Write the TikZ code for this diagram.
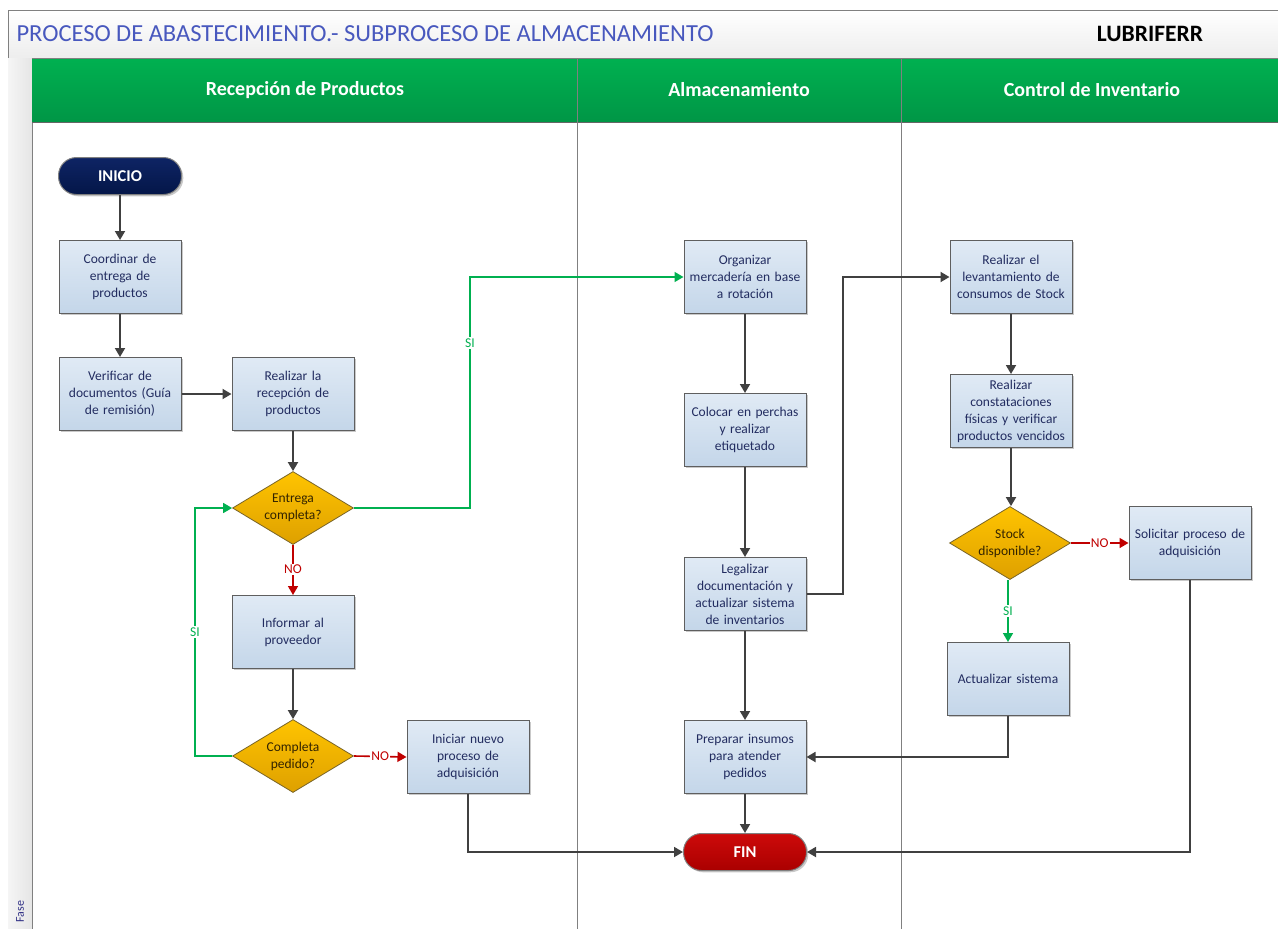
\documentclass[tikz,border=0pt]{standalone}
\usepackage{fontspec}
\setmainfont{Carlito}
\usetikzlibrary{arrows.meta,shapes.geometric,shadows,calc}
\definecolor{boxtop}{RGB}{224,234,245}
\definecolor{boxbot}{RGB}{196,214,233}
\definecolor{boxborder}{RGB}{95,95,95}
\definecolor{boxtext}{RGB}{34,44,96}
\definecolor{dtop}{RGB}{255,196,0}
\definecolor{dbot}{RGB}{222,160,0}
\definecolor{dborder}{RGB}{120,100,40}
\definecolor{dtext}{RGB}{50,35,0}
\definecolor{navytop}{RGB}{14,36,100}
\definecolor{navybot}{RGB}{4,22,72}
\definecolor{redtop}{RGB}{205,10,10}
\definecolor{redbot}{RGB}{170,0,0}
\definecolor{arrgray}{RGB}{64,64,64}
\definecolor{sigreen}{RGB}{0,176,80}
\definecolor{nored}{RGB}{192,0,0}
\definecolor{hdrtop}{RGB}{0,176,80}
\definecolor{hdrbot}{RGB}{0,150,70}
\definecolor{titleblue}{RGB}{72,88,190}
\definecolor{framegray}{RGB}{128,128,128}
\tikzset{
  proc/.style={rectangle, draw=boxborder, line width=1pt, top color=boxtop, bottom color=boxbot,
    minimum width=122pt, minimum height=73pt, align=center, text width=114pt,
    font=\fontsize{13.5}{17}\selectfont, text=boxtext,
    drop shadow={shadow xshift=1.8pt, shadow yshift=-1.8pt, opacity=.35, fill=black!60}},
  decision/.style={diamond, draw=dborder, line width=0.8pt, top color=dtop, bottom color=dbot,
    minimum width=121pt, minimum height=73pt, inner sep=0pt, aspect=1.66, align=center,
    font=\fontsize{13.5}{17}\selectfont, text=dtext},
  terminal/.style={rectangle, rounded corners=18pt, draw=framegray, line width=1pt,
    minimum width=123pt, minimum height=37pt, font=\bfseries\fontsize{16.5}{18}\selectfont, text=white,
    drop shadow={shadow xshift=1.8pt, shadow yshift=-1.8pt, opacity=.35, fill=black!60}},
  arr/.style={draw=arrgray, line width=1.8pt, -{Triangle[length=9pt,width=10pt]}},
  garr/.style={draw=sigreen, line width=1.6pt, -{Triangle[length=9pt,width=10pt]}},
  rarr/.style={draw=nored, line width=1.6pt, -{Triangle[length=9pt,width=10pt]}},
  lbl/.style={fill=white, inner sep=1.2pt, font=\fontsize{13.5}{15}\selectfont},
  lane/.style={draw=framegray, line width=1pt},
  hdrtext/.style={text=white, font=\bfseries\fontsize{20}{22}\selectfont}
}
\begin{document}
\begin{tikzpicture}[x=1pt, y=-1pt]
\useasboundingbox (0,0) rectangle (1278,929);
\fill[white] (0,0) rectangle (1278,929);
% title bar
\fill[top color=white, bottom color=black!7] (8,10) rectangle (1278,58);
\draw[lane] (1280,10) -- (8,10) -- (8,931);
\draw[lane] (8,58) -- (1280,58);
\node[anchor=west, text=titleblue, font=\fontsize{24.5}{26}\selectfont] (title) at (13,34) {PROCESO DE ABASTECIMIENTO.- SUBPROCESO DE ALMACENAMIENTO};
\node[text=black, font=\bfseries\fontsize{23.5}{25}\selectfont] (company) at (1150,34) {LUBRIFERR};
% left strip
\fill[left color=black!4, right color=black!10] (8,58) rectangle (32,931);
\draw[lane] (32,58) -- (32,931);
\node[rotate=90, anchor=west, text=black!45!blue!60!gray, font=\fontsize{12}{13}\selectfont] (fase) at (20,926) {Fase};
% header
\fill[top color=hdrtop, bottom color=hdrbot] (32,59) rectangle (1280,122);
\draw[draw=black!60, line width=1pt] (32,122) -- (1280,122);
\draw[draw=black!50, line width=1pt] (577,59) -- (577,122);
\draw[draw=black!50, line width=1pt] (901,59) -- (901,122);
\draw[lane] (577,122) -- (577,931);
\draw[lane] (901,122) -- (901,931);
\node[hdrtext] (h1) at (305,90) {Recepción de Productos};
\node[hdrtext] (h2) at (739,90) {Almacenamiento};
\node[hdrtext] (h3) at (1092,90) {Control de Inventario};
% nodes
\node[terminal, top color=navytop, bottom color=navybot] (ini) at (120,176) {INICIO};
\node[proc] (coord) at (120,277) {Coordinar de\\entrega de\\productos};
\node[proc] (verif) at (120,394) {Verificar de\\documentos (Guía\\de remisión)};
\node[proc] (recep) at (293,394) {Realizar la\\recepción de\\productos};
\node[decision] (entrega) at (293,508) {Entrega\\completa?};
\node[proc] (inform) at (293,632) {Informar al\\proveedor};
\node[decision] (completa) at (293,756) {Completa\\pedido?};
\node[proc] (inic) at (468,757) {Iniciar nuevo\\proceso de\\adquisición};
\node[proc] (org) at (745,277) {Organizar\\mercadería en base\\a rotación};
\node[proc] (colocar) at (745,430) {Colocar en perchas\\y realizar\\etiquetado};
\node[proc] (leg) at (745,594) {Legalizar\\documentación y\\actualizar sistema\\de inventarios};
\node[proc] (prep) at (745,757) {Preparar insumos\\para atender\\pedidos};
\node[terminal, top color=redtop, bottom color=redbot] (fin) at (745,852) {FIN};
\node[proc] (lev) at (1011,277) {Realizar el\\levantamiento de\\consumos de Stock};
\node[proc] (const) at (1011,411) {Realizar\\constataciones\\físicas y verificar\\productos vencidos};
\node[decision] (stock) at (1010,543) {Stock\\disponible?};
\node[proc] (solic) at (1190,543) {Solicitar proceso de\\adquisición};
\node[proc] (actual) at (1008,679) {Actualizar sistema};
% corner x positions
\coordinate (k1) at (470,0);
\coordinate (k2) at (195,0);
\coordinate (k3) at (843,0);
% connectors
\draw[arr] (ini) -- (coord);
\draw[arr] (coord) -- (verif);
\draw[arr] (verif) -- (recep);
\draw[arr] (recep) -- (entrega);
\draw[garr] (entrega.east) -- (entrega.east -| k1) -- node[lbl, text=sigreen, pos=0.714] {SI} (k1 |- org.west) -- (org.west);
\draw[rarr] (entrega.south) -- node[lbl, text=nored, pos=0.49] {NO} (inform.north);
\draw[arr] (inform) -- (completa);
\draw[garr] (completa.west) -- (completa.west -| k2) -- node[lbl, text=sigreen, pos=0.5] {SI} (k2 |- entrega.west) -- (entrega.west);
\draw[rarr] (completa.east) -- node[lbl, text=nored, pos=0.5] {NO} (inic.west);
\draw[arr] (inic.south) |- (fin.west);
\draw[arr] (org) -- (colocar);
\draw[arr] (colocar) -- (leg);
\draw[arr] (leg) -- (prep);
\draw[arr] (prep) -- (fin);
\draw[arr] (leg.east) -- (leg.east -| k3) -- (k3 |- lev.west) -- (lev.west);
\draw[arr] (lev) -- (const);
\draw[arr] (const.south) -- (const.south |- stock.north);
\draw[rarr] (stock.east) -- node[lbl, text=nored, pos=0.5] {NO} (solic.west);
\draw[garr] (stock.south -| actual.north) -- node[lbl, text=sigreen, pos=0.5] {SI} (actual.north);
\draw[arr] (actual.south) |- (prep.east);
\draw[arr] (solic.south) |- (fin.east);
\end{tikzpicture}
\end{document}
